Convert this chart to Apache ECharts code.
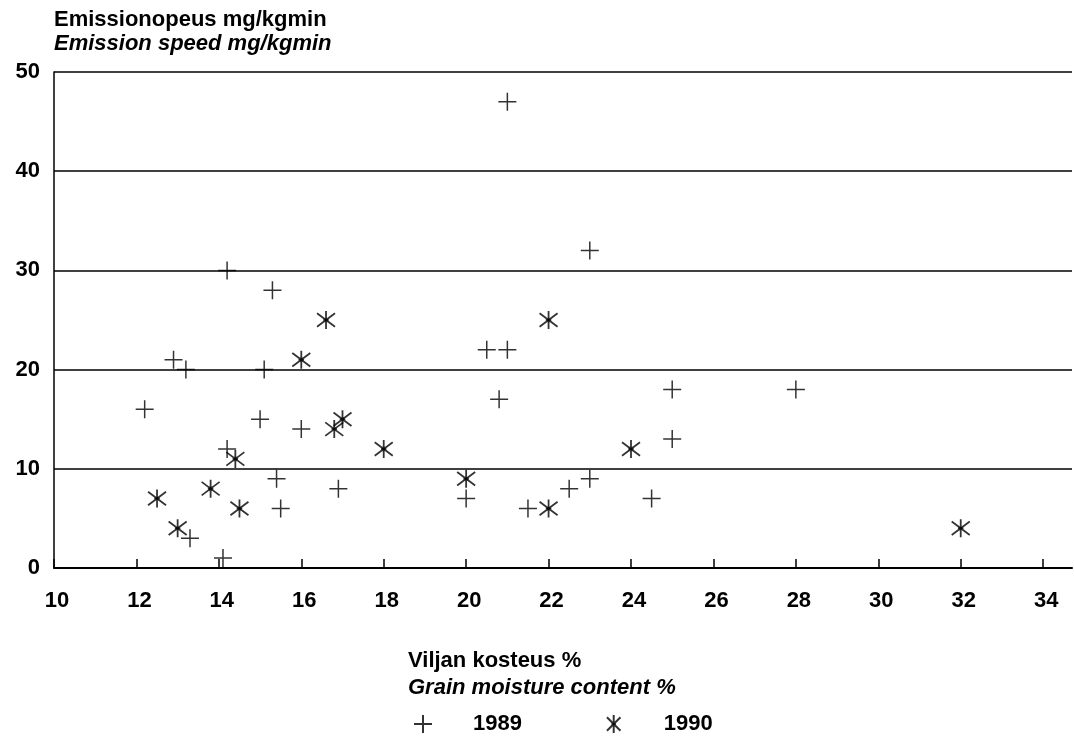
<!DOCTYPE html>
<html>
<head>
<meta charset="utf-8">
<script src="https://cdn.jsdelivr.net/npm/echarts@6/dist/echarts.min.js"></script>
<style>
  html, body { margin: 0; padding: 0; background: #fff; }
  #chart { width: 1074px; height: 738px; }
</style>
</head>
<body>
<div id="chart"></div>
<script>
// grain moisture % / emission speed mg/kgmin
const x1989 = [12.2, 12.9, 13.2, 13.3, 14.1, 14.2, 14.2, 15.0, 15.1, 15.3, 15.4, 15.5, 16.0, 16.9,
  20.0, 20.5, 20.8, 21.0, 21.0, 21.5, 22.5, 23.0, 23.0, 24.5, 25.0, 25.0, 28.0];
const y1989 = [16, 21, 20, 3, 1, 30, 12, 15, 20, 28, 9, 6, 14, 8,
  7, 22, 17, 47, 22, 6, 8, 32, 9, 7, 18, 13, 18];
const x1990 = [12.5, 13.0, 13.8, 14.4, 14.5, 16.0, 16.6, 16.8, 17.0, 18.0, 20.0, 22.0, 22.0, 24.0, 32.0];
const y1990 = [7, 4, 8, 11, 6, 21, 25, 14, 15, 12, 9, 6, 25, 12, 4];
const seriesNames = ['1989', '1990'];

const plusPath = 'path://M0,10L20,10M10,0L10,20';
const starPath = 'path://M10,0L10,20M2.5,2.5L17.5,17.5M2.5,17.5L17.5,2.5' +
  'M11.6,10A1.6,1.6 0 1 1 8.4,10A1.6,1.6 0 1 1 11.6,10Z';

const font = 'Liberation Sans, Arial, sans-serif';

const chart = echarts.init(document.getElementById('chart'));

const option = {
  animation: false,
  backgroundColor: '#fff',
  grid: { left: 54, right: 2, top: 72, bottom: 170 },
  xAxis: {
    type: 'value',
    min: 10,
    max: 34.7,
    interval: 2,
    axisLine: { show: true, onZero: false, lineStyle: { color: '#000', width: 2 } },
    axisTick: { show: true, inside: true, length: 9, lineStyle: { color: '#000', width: 1.5 } },
    axisLabel: {
      color: '#000', fontFamily: font, fontWeight: 'bold', fontSize: 22, margin: 22,
      showMaxLabel: false, padding: [0, 0, 0, 6]
    },
    splitLine: { show: false }
  },
  yAxis: {
    type: 'value',
    min: 0,
    max: 50,
    interval: 10,
    axisLine: { show: true, onZero: false, lineStyle: { color: '#000', width: 1.5 } },
    axisTick: { show: false },
    axisLabel: { color: '#000', fontFamily: font, fontWeight: 'bold', fontSize: 22, margin: 14 },
    splitLine: { show: true, lineStyle: { color: '#000', width: 1.5 } }
  },
  legend: {
    left: 408,
    top: 708,
    itemWidth: 18,
    itemHeight: 18,
    itemGap: 84,
    textStyle: { color: '#000', fontFamily: font, fontWeight: 'bold', fontSize: 22, padding: [0, 0, 0, 36] },
    data: [
      { name: seriesNames[0], icon: plusPath },
      { name: seriesNames[1], icon: starPath }
    ]
  },
  graphic: [
    { type: 'text', left: 54, top: 9,
      style: { text: 'Emissionopeus mg/kgmin', fill: '#000', font: 'bold 22px ' + font } },
    { type: 'text', left: 54, top: 33,
      style: { text: 'Emission speed mg/kgmin', fill: '#000', font: 'italic bold 22px ' + font } },
    { type: 'text', left: 408, top: 650,
      style: { text: 'Viljan kosteus %', fill: '#000', font: 'bold 22px ' + font } },
    { type: 'text', left: 408, top: 677,
      style: { text: 'Grain moisture content %', fill: '#000', font: 'italic bold 22px ' + font } }
  ],
  series: [
    {
      name: seriesNames[0],
      type: 'scatter',
      symbol: plusPath,
      symbolSize: 18,
      itemStyle: { color: '#000', borderColor: '#000', borderWidth: 1.5 },
      data: x1989.map((x, i) => [x, y1989[i]])
    },
    {
      name: seriesNames[1],
      type: 'scatter',
      symbol: starPath,
      symbolSize: 18,
      itemStyle: { color: '#000', borderColor: '#000', borderWidth: 1.8 },
      data: x1990.map((x, i) => [x, y1990[i]])
    }
  ]
};

chart.setOption(option);
</script>
</body>
</html>
